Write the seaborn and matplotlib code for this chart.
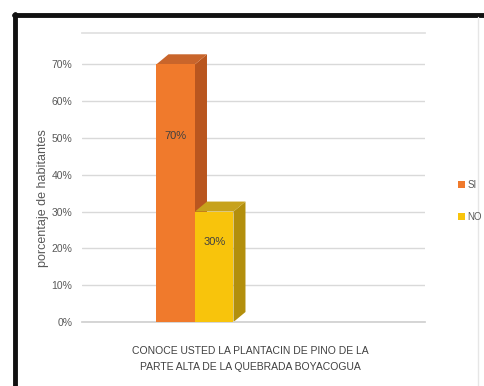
import numpy as np
import pandas as pd
import matplotlib
matplotlib.use("Agg")
import matplotlib.pyplot as plt
from matplotlib.patches import Polygon, Patch
from matplotlib.lines import Line2D
from matplotlib.transforms import ScaledTranslation, IdentityTransform
import seaborn as sns

# ---- data ----
categories = ["CONOCE USTED LA PLANTACIN DE PINO DE LA\nPARTE ALTA DE LA QUEBRADA BOYACOGUA"]
series_names = ["SI", "NO"]
values = [0.70, 0.30]
bar_labels = ["70%", "30%"]
y_ticks = [0.0, 0.1, 0.2, 0.3, 0.4, 0.5, 0.6, 0.7]
y_tick_labels = ["0%", "10%", "20%", "30%", "40%", "50%", "60%", "70%"]
y_title = "porcentaje de habitantes"

front_colors = {"SI": "#F07A2C", "NO": "#F8C40C"}
side_colors = {"SI": "#B9561F", "NO": "#B38F0C"}
top_colors = {"SI": "#C9652B", "NO": "#C7A21C"}

df = pd.DataFrame({
    "pregunta": categories * len(series_names),
    "respuesta": series_names,
    "valor": values,
})

sns.set_theme(style="white")
plt.rcParams["font.family"] = ["Liberation Sans", "DejaVu Sans"]

W, H, DPI = 484, 386, 100
fig = plt.figure(figsize=(W / DPI, H / DPI), dpi=DPI)
fig.patch.set_facecolor("white")

L, R, B, T = 82, 425, 322, 33
ax = fig.add_axes([L / W, 1 - B / H, (R - L) / W, (B - T) / H])

sns.barplot(data=df, x="pregunta", y="valor", hue="respuesta",
            palette=front_colors, width=0.8, saturation=1, ax=ax,
            legend=False, linewidth=0, zorder=3)

ax.set_xlim(-1.174, 2.39)
ax.set_ylim(0, 0.785)
ax.set_yticks(y_ticks)
ax.set_yticklabels(y_tick_labels)
ax.tick_params(axis="y", length=0, pad=7, labelsize=7.5, labelcolor="#595959")
ax.tick_params(axis="x", length=0, pad=17, labelsize=7.5, labelcolor="#404040")
for lab in ax.get_xticklabels():
    lab.set_transform(lab.get_transform() + ScaledTranslation(0.55, 0, fig.dpi_scale_trans))
    lab.set_multialignment("center")
    lab.set_linespacing(1.75)

ax.set_xlabel("")
ax.set_ylabel(y_title, fontsize=9, color="#595959")
ax.yaxis.set_label_coords(-0.095, 0.43)

ax.grid(axis="y", color="#D9D9D9", linewidth=1, zorder=0)
ax.set_axisbelow(True)
for side in ["left", "right"]:
    ax.spines[side].set_visible(False)
ax.spines["bottom"].set_color("#D0D0D0")
ax.spines["top"].set_color("#E0E0E0")

# 3D-like depth faces derived from the drawn bars
fig.canvas.draw()
dx, dy = 12, 10
for p, name, lbl, v in zip(ax.patches, series_names, bar_labels, values):
    x0, y0, w, h = p.get_x(), p.get_y(), p.get_width(), p.get_height()
    (px0, py0), (px1, py1) = ax.transData.transform([(x0, y0), (x0 + w, y0 + h)])
    side = [(px1, py0), (px1 + dx, py0 + dy), (px1 + dx, py1 + dy), (px1, py1)]
    top = [(px0, py1), (px0 + dx, py1 + dy), (px1 + dx, py1 + dy), (px1, py1)]
    for pts, col in [(side, side_colors[name]), (top, top_colors[name])]:
        ax.add_patch(Polygon(pts, closed=True, transform=IdentityTransform(),
                             facecolor=col, edgecolor="none", zorder=2, clip_on=False))
    ax.text(x0 + w / 2, v * 0.72, lbl, ha="center", va="center",
            fontsize=8, color="#404040", zorder=5)

# legend
handles = [Patch(facecolor=front_colors[n], edgecolor="none", label=n) for n in series_names]
fig.legend(handles=handles, loc="center left", bbox_to_anchor=(449 / W, 1 - 201 / H),
           frameon=False, fontsize=7, labelcolor="#595959",
           handlelength=0.7, handleheight=0.7, handletextpad=0.3, labelspacing=2.3)

# outer frame
fig.add_artist(Line2D([14 / W, 1], [1 - 15 / H, 1 - 15 / H], transform=fig.transFigure,
                      color="#111111", linewidth=3.5))
fig.add_artist(Line2D([15 / W, 15 / W], [0, 1 - 14 / H], transform=fig.transFigure,
                      color="#111111", linewidth=3.5))
fig.add_artist(Line2D([478 / W, 478 / W], [0, 1 - 17 / H], transform=fig.transFigure,
                      color="#E6E6E6", linewidth=1))

fig.savefig("out.png", dpi=DPI, facecolor="white")
